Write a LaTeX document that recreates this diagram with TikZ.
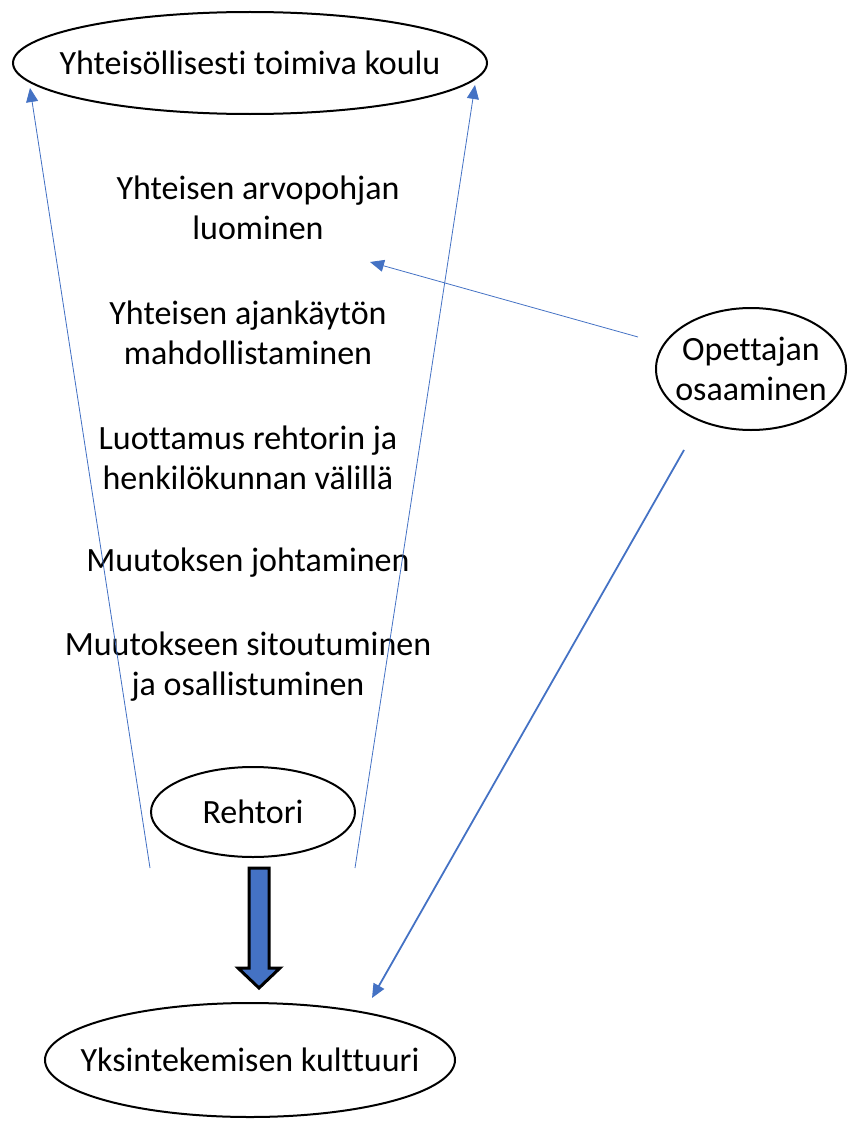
\documentclass[tikz,border=0pt]{standalone}
\usepackage{fontspec}
\setmainfont{Carlito}[Ligatures=NoCommon]
\usetikzlibrary{positioning,arrows.meta,shapes.geometric}
\definecolor{wordblue}{HTML}{4472C4}
\tikzset{>={Triangle[length=14pt,width=12pt]}}
\tikzset{oval/.style={draw,ellipse,line width=2pt,inner ysep=0pt,inner xsep=-30pt},
  thin/.style={draw=wordblue,line width=0.8pt,->,color=wordblue},
  thick/.style={draw=wordblue,line width=1.8pt,->,color=wordblue}}

\begin{document}
\begin{tikzpicture}[x=1pt,y=-1pt,font=\fontsize{34}{40}\selectfont,align=center]
\useasboundingbox (0,0) rectangle (847,1124);
% Draw the three ellipses of the cone and the side one
\node[oval,minimum width=474pt,minimum height=102pt] (koulu) at (250,63) {Yhteisöllisesti toimiva koulu};
\node[oval,minimum width=204pt,minimum height=90pt] (rehtori) at (253,812) {Rehtori};
\node[oval,minimum width=410pt,minimum height=114pt] (kulttuuri) at (250,1060) {Yksintekemisen kulttuuri};
\node[oval,minimum width=190pt,minimum height=122pt] (opettaja) at (751,369) {Opettajan\\osaaminen};
% Texts inside the cone
\node (arvo) at (258,208) {Yhteisen arvopohjan\\luominen};
\node (aika) at (248,333) {Yhteisen ajankäytön\\mahdollistaminen};
\node (luottamus) at (248,458) {Luottamus rehtorin ja\\henkilökunnan välillä};
\node (johto) at (248,563) {Muutoksen johtaminen};
\node (sitoutus) at (248,667) {Muutokseen sitoutuminen\\ja osallistuminen};
% Draw the sides of the cone
\coordinate (ll) at (150,868);
\coordinate (lu) at (30,88);
\coordinate (rl) at (355,868);
\coordinate (ru) at (475,85);
\draw[thin] (ll) -- (lu);
\draw[thin] (rl) -- (ru);
% Arrows from Opettajan osaaminen
\coordinate (o1) at (638,337);
\coordinate (a1) at (370,262);
\coordinate (o2) at (684,450);
\coordinate (k1) at (372,998);
\draw[thin] (o1) -- (a1);
\draw[thick] (o2) -- (k1);
% Draw the block arrow under Rehtori
\coordinate (fat) at (259,868);
\draw[line width=3pt,fill=wordblue] (fat) ++(-10,0) -- ++(20,0) -- ++(0,100) -- ++(11,0) -- (259,988) -- ++(-21,-20) -- ++(11,0) -- cycle;
\end{tikzpicture}
\end{document}
